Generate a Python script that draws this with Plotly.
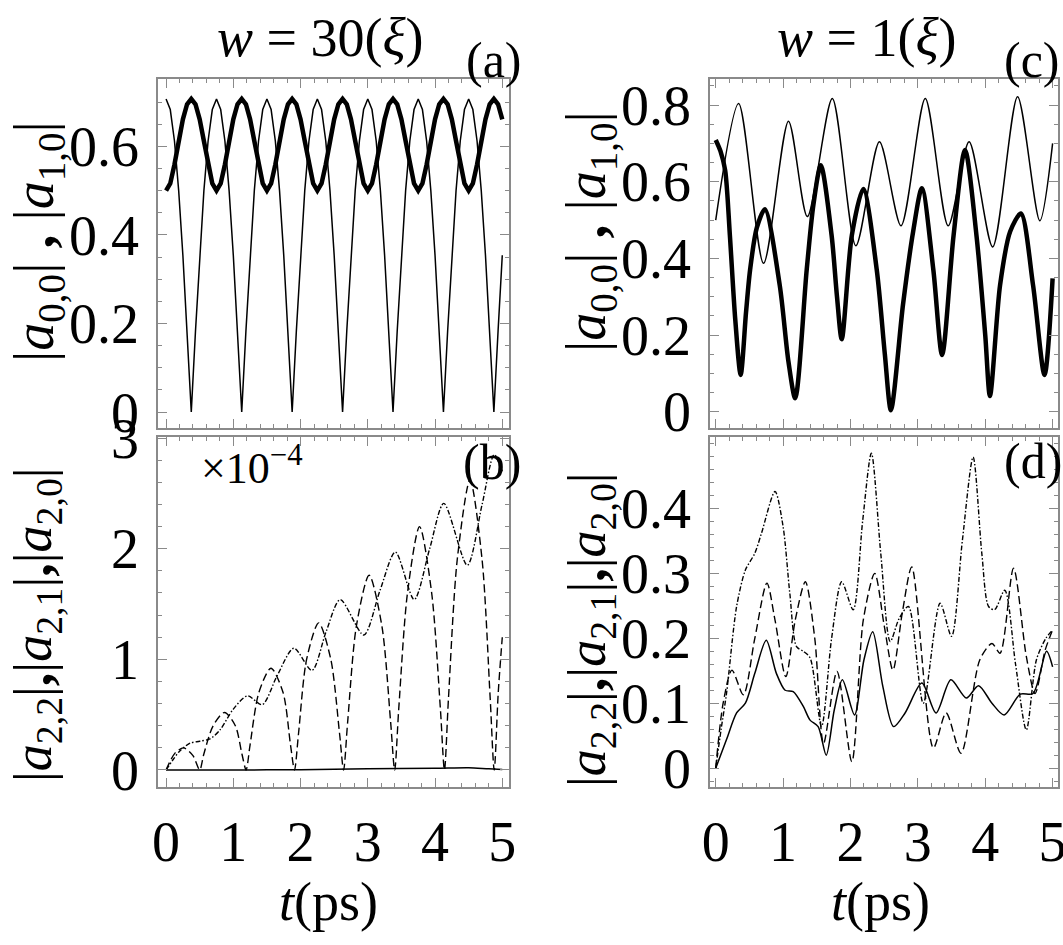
import plotly.graph_objects as go

# ---------------- data ----------------
# panel (a): sampled every 0.0625 ps
T_A = [round(0.0625 * i, 4) for i in range(81)]
A_THIN = [0.707, 0.683, 0.612, 0.500, 0.354, 0.183, 0.000, 0.183, 0.354, 0.500, 0.612, 0.683,
          0.707, 0.683, 0.612, 0.500, 0.354, 0.183, 0.000, 0.183, 0.354, 0.500, 0.612, 0.683,
          0.707, 0.683, 0.612, 0.500, 0.354, 0.183, 0.000, 0.183, 0.354, 0.500, 0.612, 0.683,
          0.707, 0.683, 0.612, 0.500, 0.354, 0.183, 0.000, 0.183, 0.354, 0.500, 0.612, 0.683,
          0.707, 0.683, 0.612, 0.500, 0.354, 0.183, 0.000, 0.183, 0.354, 0.500, 0.612, 0.683,
          0.707, 0.683, 0.612, 0.500, 0.354, 0.183, 0.000, 0.183, 0.354, 0.500, 0.612, 0.683,
          0.707, 0.683, 0.612, 0.500, 0.354, 0.183, 0.000, 0.183, 0.354]
A_THICK = [0.500, 0.516, 0.559, 0.612, 0.661, 0.695, 0.707, 0.695, 0.661, 0.612, 0.559, 0.516,
           0.500, 0.516, 0.559, 0.612, 0.661, 0.695, 0.707, 0.695, 0.661, 0.612, 0.559, 0.516,
           0.500, 0.516, 0.559, 0.612, 0.661, 0.695, 0.707, 0.695, 0.661, 0.612, 0.559, 0.516,
           0.500, 0.516, 0.559, 0.612, 0.661, 0.695, 0.707, 0.695, 0.661, 0.612, 0.559, 0.516,
           0.500, 0.516, 0.559, 0.612, 0.661, 0.695, 0.707, 0.695, 0.661, 0.612, 0.559, 0.516,
           0.500, 0.516, 0.559, 0.612, 0.661, 0.695, 0.707, 0.695, 0.661, 0.612, 0.559, 0.516,
           0.500, 0.516, 0.559, 0.612, 0.661, 0.695, 0.707, 0.695, 0.661]

# panel (b): values in units of 1e-4
B_SOLID_T = [0, 1, 2, 3, 4, 4.5, 4.8, 5.0]
B_SOLID = [0, 0, 0.003, 0.01, 0.015, 0.02, 0.01, 0.005]
B_DASH_T = [0, 0.13, 0.26, 0.4, 0.5,
            0.56, 0.7, 0.87, 1.03, 1.13, 1.19,
            1.25, 1.38, 1.56, 1.74, 1.85, 1.91,
            1.97, 2.09, 2.27, 2.45, 2.58, 2.64,
            2.7, 2.83, 3.02, 3.21, 3.34, 3.40,
            3.46, 3.59, 3.77, 3.95, 4.08, 4.14,
            4.2, 4.33, 4.52, 4.7, 4.82, 4.88,
            4.94, 5.0]
B_DASH = [0, 0.15, 0.2, 0.13, 0,
          0.14, 0.4, 0.52, 0.4, 0.14, 0,
          0.23, 0.7, 0.92, 0.7, 0.23, 0,
          0.33, 1.0, 1.33, 1.0, 0.33, 0,
          0.43, 1.3, 1.76, 1.3, 0.43, 0,
          0.55, 1.6, 2.2, 1.6, 0.55, 0,
          0.65, 1.9, 2.62, 1.9, 0.65, 0,
          0.7, 1.2]
B_DDOT_T = [0, 0.1, 0.2, 0.35, 0.5, 0.65, 0.8, 1.0, 1.21, 1.43, 1.65, 1.9, 2.17, 2.38, 2.59,
            2.94, 3.18, 3.41, 3.69, 3.92, 4.13, 4.48, 4.7, 4.88, 5.0]
B_DDOT = [0, 0.09, 0.17, 0.24, 0.26, 0.28, 0.36, 0.55, 0.67, 0.59, 0.85, 1.1, 0.9, 1.25, 1.54,
          1.22, 1.62, 1.97, 1.54, 2.0, 2.41, 1.85, 2.4, 2.85, 2.7]

# panel (c)
C_THIN_T = [0, 0.34, 0.71, 1.08, 1.36, 1.73, 2.08, 2.43, 2.75, 3.11, 3.45, 3.76, 4.11, 4.48, 4.81, 5.0]
C_THIN = [0.5, 0.804, 0.387, 0.758, 0.509, 0.817, 0.433, 0.704, 0.485, 0.817, 0.485, 0.704, 0.43,
          0.822, 0.498, 0.7]
C_THICK_T = [0, 0.07, 0.14, 0.21, 0.29, 0.37, 0.45, 0.51, 0.61, 0.73, 0.95, 1.08, 1.18, 1.35, 1.45,
             1.56, 1.72, 1.8, 1.87, 2.02, 2.19, 2.39, 2.51, 2.6, 2.78, 2.93, 3.06, 3.23, 3.36,
             3.53, 3.70, 3.87, 4.0, 4.07, 4.22, 4.37, 4.53, 4.71, 4.88, 5.0]
C_THICK = [0.709, 0.68, 0.63, 0.46, 0.24, 0.096, 0.26, 0.37, 0.48, 0.528, 0.33, 0.13, 0.035, 0.37,
           0.54, 0.643, 0.46, 0.3, 0.189, 0.46, 0.581, 0.37, 0.15, 0.004, 0.28, 0.47, 0.583, 0.37,
           0.148, 0.46, 0.683, 0.46, 0.2, 0.041, 0.33, 0.47, 0.517, 0.33, 0.096, 0.348]

# panel (d)
D_SOLID_T = [0, 0.16, 0.31, 0.44, 0.58, 0.75, 0.9, 1.03, 1.15, 1.3, 1.4, 1.52, 1.64, 1.76, 1.88,
             2.06, 2.2, 2.33, 2.48, 2.64, 2.81, 3.06, 3.27, 3.49, 3.72, 3.9, 4.1, 4.28, 4.52,
             4.71, 4.91, 5.0]
D_SOLID = [0, 0.044, 0.085, 0.1, 0.146, 0.197, 0.146, 0.12, 0.118, 0.095, 0.074, 0.064, 0.02,
           0.09, 0.136, 0.082, 0.167, 0.21, 0.126, 0.064, 0.085, 0.131, 0.085, 0.136, 0.108,
           0.127, 0.1, 0.082, 0.114, 0.115, 0.18, 0.156]
D_DASH_T = [0, 0.11, 0.24, 0.41, 0.58, 0.76, 0.88, 1.04, 1.18, 1.33, 1.47, 1.6, 1.8, 2.02, 2.19,
            2.36, 2.5, 2.63, 2.77, 2.91, 3.23, 3.42, 3.64, 3.92, 4.1, 4.22, 4.42, 4.61, 4.74,
            4.89, 5.0]
D_DASH = [0, 0.1, 0.151, 0.113, 0.2, 0.285, 0.228, 0.141, 0.228, 0.287, 0.2, 0.038, 0.149, 0.01,
          0.228, 0.3, 0.22, 0.151, 0.24, 0.31, 0.031, 0.085, 0.023, 0.167, 0.192, 0.177, 0.308,
          0.172, 0.115, 0.182, 0.213]
D_DDOT_T = [0, 0.08, 0.16, 0.31, 0.44, 0.58, 0.68, 0.88, 1.0, 1.1, 1.2, 1.3, 1.4, 1.57, 1.72,
            1.87, 2.04, 2.18, 2.31, 2.45, 2.59, 2.72, 2.86, 3.08, 3.33, 3.5, 3.66, 3.82, 3.95,
            4.05, 4.14, 4.29, 4.45, 4.61, 4.76, 4.9, 5.0]
D_DDOT = [0, 0.06, 0.115, 0.249, 0.305, 0.331, 0.362, 0.426, 0.372, 0.269, 0.187, 0.18, 0.17,
          0.064, 0.2, 0.287, 0.244, 0.38, 0.485, 0.33, 0.195, 0.23, 0.249, 0.1, 0.254, 0.203,
          0.35, 0.479, 0.33, 0.249, 0.244, 0.274, 0.16, 0.059, 0.167, 0.2, 0.213]

# tick labels
TICKS_A = [0, 0.2, 0.4, 0.6]
TICKS_B = [0, 1, 2, 3]
TICKS_C = [0, 0.2, 0.4, 0.6, 0.8]
TICKS_D = [0, 0.1, 0.2, 0.3, 0.4]
TICKS_T = [0, 1, 2, 3, 4, 5]

# ---------------- figure ----------------
W, H = 1063, 945
SERIF = "Liberation Serif"
GRAY = "#8a8a8a"
DASH = "8px,4px"
DDOT = "5px,2px,1.5px,2px"

fig = go.Figure()


def line(x, y, xa, ya, width=1.5, dash="solid", shape="spline"):
    fig.add_trace(go.Scatter(x=x, y=y, xaxis=xa, yaxis=ya, mode="lines",
                             line=dict(color="black", width=width, dash=dash, shape=shape,
                                       smoothing=0.8 if shape == "spline" else None),
                             showlegend=False, hoverinfo="skip"))


line(T_A, A_THIN, "x", "y", 1.5, shape="linear")
line(T_A, A_THICK, "x", "y", 4.5, shape="linear")

line(B_SOLID_T, B_SOLID, "x2", "y2", 1.5)
line(B_DASH_T, B_DASH, "x2", "y2", 1.4, DASH)
line(B_DDOT_T, B_DDOT, "x2", "y2", 1.4, DDOT)

line(C_THIN_T, C_THIN, "x3", "y3", 1.5)
line(C_THICK_T, C_THICK, "x3", "y3", 4.5)

line(D_SOLID_T, D_SOLID, "x4", "y4", 1.5)
line(D_DASH_T, D_DASH, "x4", "y4", 1.4, DASH)
line(D_DDOT_T, D_DDOT, "x4", "y4", 1.4, DDOT)


def ax(rng, tickvals, mdtick, domain, anchor, labels=True):
    return dict(range=rng, domain=domain, anchor=anchor, automargin=False,
                showline=True, linecolor=GRAY,
                linewidth=1.5, mirror="ticks", ticks="inside", ticklen=9, tickwidth=1,
                tickcolor=GRAY, tickmode="array", tickvals=tickvals,
                ticktext=[str(v) for v in tickvals],
                showgrid=False, zeroline=False,
                showticklabels=labels, ticklabeloverflow="allow",
                tickfont=dict(family=SERIF, size=56, color="black"),
                minor=dict(ticks="inside", ticklen=4, dtick=mdtick, tick0=0, tickcolor=GRAY,
                           tickwidth=1, showgrid=False))


XL = [158 / W, 509 / W]
XR = [710 / W, 1058 / W]
YT = [1 - 428 / H, 1 - 79 / H]
YB = [1 - 787 / H, 1 - 437 / H]

fig.update_layout(
    width=W, height=H, margin=dict(l=0, r=0, t=0, b=0, autoexpand=False),
    paper_bgcolor="white", plot_bgcolor="white",
    xaxis=ax([-0.12, 5.1], TICKS_T, 0.2, XL, "y", labels=False),
    yaxis=ax([-0.036, 0.752], TICKS_A, 0.05, YT, "x"),
    xaxis2=ax([-0.12, 5.1], TICKS_T, 0.2, XL, "y2"),
    yaxis2=ax([-0.154, 3.01], TICKS_B, 0.2, YB, "x2"),
    xaxis3=ax([-0.085, 5.08], TICKS_T, 0.2, XR, "y3", labels=False),
    yaxis3=ax([-0.0425, 0.868], TICKS_C, 0.05, YT, "x3"),
    xaxis4=ax([-0.085, 5.08], TICKS_T, 0.2, XR, "y4"),
    yaxis4=ax([-0.029, 0.51], TICKS_D, 0.02, YB, "x4"),
)
for k in ["yaxis", "yaxis2", "yaxis3", "yaxis4"]:
    fig.layout[k].ticklabelstandoff = 6
for k in ["xaxis2", "xaxis4"]:
    fig.layout[k].ticklabelstandoff = 5


def note(text, px, py, size, angle=0):
    fig.add_annotation(text=text, x=px / W, y=1 - py / H, xref="paper", yref="paper",
                       showarrow=False, textangle=angle, xanchor="center", yanchor="middle",
                       font=dict(family=SERIF, size=size, color="black"))


note("<i>w</i> = 30(<i>ξ</i>)", 320, 38, 54)
note("<i>w</i> = 1(<i>ξ</i>)", 867, 38, 54)
note("(a)", 494, 60, 50)
note("(b)", 492, 462, 50)
note("(c)", 1032, 60, 50)
note("(d)", 1033, 461, 50)
note("×10<sup>−4</sup>", 252, 466, 44)
note("<i>t</i>(ps)", 328, 902, 54)
note("<i>t</i>(ps)", 880, 902, 54)
note("|<i>a</i><sub>0,0</sub>| <b>,</b> |<i>a</i><sub>1,0</sub>|", 38, 242, 56, -90)
note("|<i>a</i><sub>2,2</sub>|<b>,</b>|<i>a</i><sub>2,1</sub>|<b>,</b>|<i>a</i><sub>2,0</sub>|", 36, 625, 54, -90)
note("|<i>a</i><sub>0,0</sub>| <b>,</b> |<i>a</i><sub>1,0</sub>|", 590, 232, 56, -90)
note("|<i>a</i><sub>2,2</sub>|<b>,</b>|<i>a</i><sub>2,1</sub>|<b>,</b>|<i>a</i><sub>2,0</sub>|", 590, 630, 54, -90)

fig.write_html("out.html")
